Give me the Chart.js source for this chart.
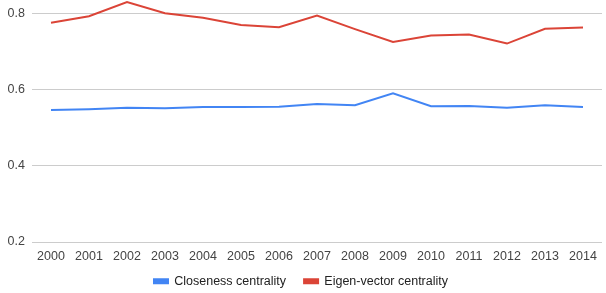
<!DOCTYPE html>
<html>
<head>
<meta charset="utf-8">
<script src="https://cdn.jsdelivr.net/npm/chart.js@4/dist/chart.umd.min.js"></script>
<style>
html,body{margin:0;padding:0;background:#fff;}
#wrap{width:606px;height:293px;}
</style>
</head>
<body>
<div id="wrap"><canvas id="c" width="606" height="293"></canvas></div>
<script>
const years = ['2000','2001','2002','2003','2004','2005','2006','2007','2008','2009','2010','2011','2012','2013','2014'];
const closeness = [0.547,0.549,0.553,0.552,0.555,0.555,0.556,0.563,0.560,0.591,0.557,0.558,0.553,0.560,0.555];
const eigen = [0.777,0.794,0.831,0.802,0.790,0.771,0.765,0.796,0.760,0.726,0.743,0.746,0.722,0.761,0.764];
const yTicks = [0.2,0.4,0.6,0.8];

const FONT = 'Liberation Sans, Arial, sans-serif';
const shiftLegend = {
  id:'shiftLegend',
  afterLayout(chart){
    const l = chart.legend;
    if (l && l._patched) { l.top -= 7; }
  }
};
const ch = new Chart(document.getElementById('c'), {
  type: 'line',
  data: {
    labels: years,
    datasets: [
      {label:'Closeness centrality', data: closeness, borderColor:'#4285F4', backgroundColor:'#4285F4', borderWidth:2, pointRadius:0, tension:0, clip:false},
      {label:'Eigen-vector centrality', data: eigen, borderColor:'#DB4437', backgroundColor:'#DB4437', borderWidth:2, pointRadius:0, tension:0, clip:false}
    ]
  },
  plugins:[shiftLegend],
  options: {
    responsive:false,
    animation:false,
    layout:{padding:{left:0,right:4,top:0,bottom:0}},
    plugins:{
      tooltip:{enabled:false},
      legend:{
        position:'bottom',
        labels:{boxWidth:14,boxHeight:4,color:'#222',font:{family:FONT,size:12.5},padding:18}
      }
    },
    scales:{
      x:{
        offset:true,
        grid:{display:false},
        border:{display:false},
        afterFit:(s)=>{s.height=22;s.paddingLeft=0;s.paddingRight=0;},
        ticks:{color:'#444',font:{family:FONT,size:12.5},maxRotation:0,autoSkip:false,padding:-1}
      },
      y:{
        min:0.2,
        max:0.834,
        afterFit:(s)=>{s.width=32;s.paddingTop=0;s.paddingBottom=0;},
        afterBuildTicks:(s)=>{s.ticks = yTicks.map(v=>({value:v}));},
        grid:{color:'#cccccc',drawTicks:false},
        border:{display:false},
        ticks:{color:'#444',font:{family:FONT,size:12.5},padding:7,callback:(v)=>v.toFixed(1)}
      }
    }
  }
});
const lg = ch.legend;
const origFit = lg.fit.bind(lg);
lg._patched = true;
lg.fit = function(){ origFit(); this.height = 29; };
ch.update();
</script>
</body>
</html>
